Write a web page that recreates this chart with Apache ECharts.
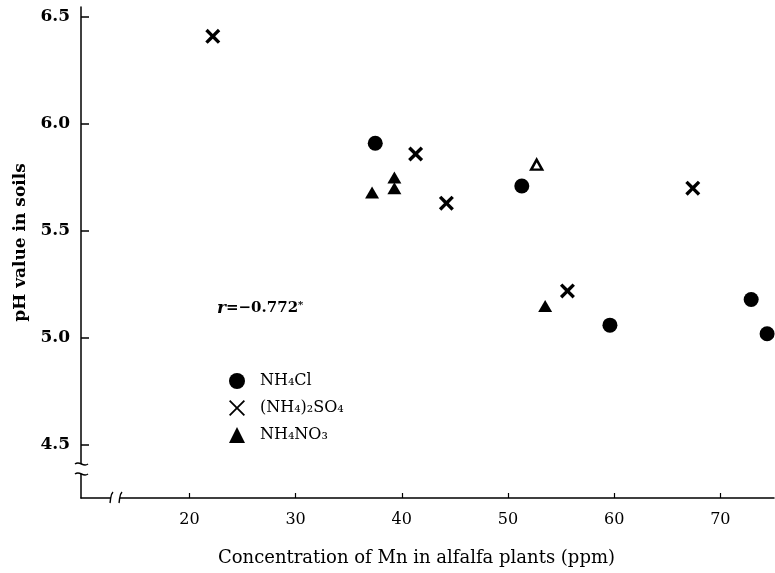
<!DOCTYPE html>
<html>
<head>
<meta charset="utf-8">
<script src="https://cdn.jsdelivr.net/npm/echarts@6/dist/echarts.min.js"></script>
<style>html,body{margin:0;padding:0;background:#fff}#c{width:775px;height:573px}</style>
</head>
<body>
<div id="c"></div>
<script>
// ---- data ----
const nh4clData = [[37.5, 5.91], [51.3, 5.71], [59.6, 5.06], [72.9, 5.18], [74.4, 5.02]];
const so4Data = [[22.2, 6.41], [41.3, 5.86], [44.2, 5.63], [55.6, 5.22], [67.4, 5.70]];
const no3Data = [[37.2, 5.68], [39.3, 5.75], [39.3, 5.70], [53.5, 5.15]];
const openTriData = [[52.7, 5.81]];
const xTicks = [20, 30, 40, 50, 60, 70];
const yTicks = [4.5, 5.0, 5.5, 6.0, 6.5];
const seriesNames = ['NH\u2084Cl', '(NH\u2084)\u2082SO\u2084', 'NH\u2084NO\u2083'];
const xName = 'Concentration of Mn in alfalfa plants (ppm)';
const yName = 'pH value in soils';

const FONT = '"DejaVu Serif", "Liberation Serif", serif';
const crossPath = 'path://M0,1.6 L1.6,0 L5,3.4 L8.4,0 L10,1.6 L6.6,5 L10,8.4 L8.4,10 L5,6.6 L1.6,10 L0,8.4 L3.4,5 Z';
const thinCross = 'path://M0,0.8 L0.8,0 L5,4.2 L9.2,0 L10,0.8 L5.8,5 L10,9.2 L9.2,10 L5,5.8 L0.8,10 L0,9.2 L4.2,5 Z';

const chart = echarts.init(document.getElementById('c'));
const option = {
  animation: false,
  backgroundColor: '#fff',
  grid: { left: 81, right: 1, top: 7, bottom: 75 },
  xAxis: {
    type: 'value', min: 9.79, max: 75.05,
    name: xName, nameLocation: 'middle', nameGap: 51,
    nameTextStyle: { fontFamily: FONT, fontSize: 18, color: '#000', padding: [0, 22, 0, 0] },
    axisLine: { lineStyle: { color: '#000', width: 1.5 } },
    axisTick: { show: true, inside: true, length: 5, lineStyle: { color: '#000', width: 1.2 }, customValues: xTicks },
    axisLabel: { fontFamily: FONT, fontSize: 16, color: '#000', margin: 14, customValues: xTicks },
    splitLine: { show: false }
  },
  yAxis: {
    type: 'value', min: 4.252, max: 6.547,
    name: yName, nameLocation: 'middle', nameGap: 46, nameRotate: 90,
    nameTextStyle: { fontFamily: FONT, fontSize: 17, fontWeight: 'bold', color: '#000', padding: [0, 0, 0, 20] },
    axisLine: { lineStyle: { color: '#000', width: 1.5 } },
    axisTick: { show: true, inside: true, length: 8, lineStyle: { color: '#000', width: 1.5 }, customValues: yTicks },
    axisLabel: { fontFamily: FONT, fontSize: 17, fontWeight: 'bold', color: '#000', margin: 11,
      customValues: yTicks, formatter: v => v.toFixed(1) },
    splitLine: { show: false }
  },
  legend: {
    orient: 'vertical', left: 224, top: 368, itemGap: 11, itemWidth: 16, itemHeight: 16,
    textStyle: { fontFamily: FONT, fontSize: 16, color: '#000', padding: [0, 0, 0, 10] },
    data: [
      { name: seriesNames[0], icon: 'circle' },
      { name: seriesNames[1], icon: thinCross },
      { name: seriesNames[2], icon: 'triangle' }
    ]
  },
  series: [
    { name: seriesNames[0], type: 'scatter', data: nh4clData, symbol: 'circle', symbolSize: 15,
      itemStyle: { color: '#000', opacity: 1 } },
    { name: seriesNames[1], type: 'scatter', data: so4Data, symbol: crossPath, symbolSize: 15,
      itemStyle: { color: '#000', opacity: 1 } },
    { name: seriesNames[2], type: 'scatter', data: no3Data, symbol: 'triangle', symbolSize: [14, 12],
      itemStyle: { color: '#000', opacity: 1 } },
    { name: 'open', type: 'scatter', data: openTriData, symbol: 'triangle', symbolSize: [11, 10],
      itemStyle: { color: '#fff', borderColor: '#000', borderWidth: 2.5, opacity: 1 } }
  ]
};
chart.setOption(option);

// axis-break decorations and annotation, placed relative to the axis origin
const o = chart.convertToPixel({ gridIndex: 0 }, [9.79, 4.252]);
const ox = o[0], oy = o[1];
const ls = { stroke: '#000', lineWidth: 1.4, fill: null };
chart.setOption({
  graphic: [
    { type: 'rect', z: 100, shape: { x: ox - 4, y: oy - 34, width: 8, height: 10 }, style: { fill: '#fff' } },
    { type: 'bezierCurve', z: 101, shape: { x1: ox - 6, y1: oy - 34, x2: ox + 7, y2: oy - 34, cpx1: ox - 1, cpy1: oy - 38, cpx2: ox + 2, cpy2: oy - 30 }, style: ls },
    { type: 'bezierCurve', z: 101, shape: { x1: ox - 6, y1: oy - 24, x2: ox + 7, y2: oy - 24, cpx1: ox - 1, cpy1: oy - 28, cpx2: ox + 2, cpy2: oy - 20 }, style: ls },
    { type: 'rect', z: 100, shape: { x: ox + 30, y: oy - 4, width: 9, height: 8 }, style: { fill: '#fff' } },
    { type: 'bezierCurve', z: 101, shape: { x1: ox + 29, y1: oy + 5, x2: ox + 32, y2: oy - 6, cpx1: ox + 30, cpy1: oy, cpx2: ox + 29, cpy2: oy - 3 }, style: ls },
    { type: 'bezierCurve', z: 101, shape: { x1: ox + 38, y1: oy + 5, x2: ox + 41, y2: oy - 6, cpx1: ox + 39, cpy1: oy, cpx2: ox + 38, cpy2: oy - 3 }, style: ls },
    { type: 'text', z: 101, left: 217, top: 300,
      style: { text: '{i|r}{b|=\u22120.772}{s|*}', fontFamily: FONT,
        rich: {
          i: { fontFamily: FONT, fontSize: 17, fontStyle: 'italic', fontWeight: 'bold', fill: '#000' },
          b: { fontFamily: FONT, fontSize: 15, fontWeight: 'bold', fill: '#000' },
          s: { fontFamily: FONT, fontSize: 10, fontWeight: 'bold', fill: '#000', verticalAlign: 'top', padding: [0, 0, 6, 0] }
        } } }
  ]
});
</script>
</body>
</html>
